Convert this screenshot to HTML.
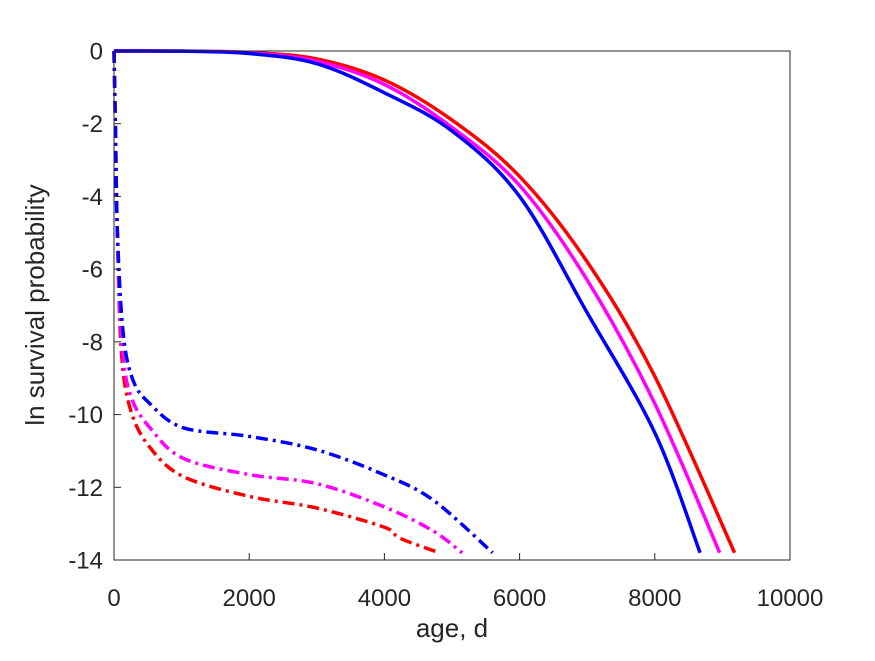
<!DOCTYPE html>
<html><head><meta charset="utf-8"><style>
body{margin:0;background:#fff;}
text{font-family:"Liberation Sans",Arial,sans-serif;fill:#262626;}
</style></head><body>
<svg id="chart" width="875" height="656" viewBox="0 0 875 656">
<rect x="0" y="0" width="875" height="656" fill="#fff"/>
<g id="plot"></g>
<rect x="114" y="51" width="676" height="509" fill="none" stroke="#262626" stroke-width="1"/>
<g id="xt"></g>
<g id="yt"></g>
<text x="452" y="637" font-size="26" text-anchor="middle">age, d</text>
<text transform="translate(44,305) rotate(-90)" font-size="26" text-anchor="middle">ln survival probability</text>
</svg>
<script>
const xTicks=[0,2000,4000,6000,8000,10000];
const yTicks=[0,-2,-4,-6,-8,-10,-12,-14];
const solidBlueX=[0,1000,2000,3000,4000,5000,6000,7000,8000,8670];
const solidBlueY=[0,-0.005,-0.07,-0.35,-1.15,-2.2,-4.0,-7.2,-10.5,-13.8];
const solidMagentaX=[0,1000,2000,3000,4000,5000,6000,7000,8000,8960];
const solidMagentaY=[0,-0.004,-0.05,-0.28,-0.92,-2.1,-3.7,-6.3,-9.7,-13.8];
const solidRedX=[0,1000,2000,3000,4000,5000,6000,7000,8000,9180];
const solidRedY=[0,-0.003,-0.04,-0.22,-0.8,-1.9,-3.45,-5.8,-8.95,-13.8];
const dashBlueX=[0,20,50,135,280,530,1020,2000,3000,4000,4720,5600];
const dashBlueY=[0,-2,-5,-7.75,-9.05,-9.7,-10.36,-10.6,-10.97,-11.66,-12.35,-13.8];
const dashMagentaX=[0,20,50,120,250,530,1020,2000,3000,4000,4720,5150];
const dashMagentaY=[0,-2,-5,-8.1,-9.5,-10.36,-11.2,-11.65,-11.9,-12.54,-13.2,-13.8];
const dashRedX=[0,20,50,110,250,530,1020,2000,3000,4000,4230,4810];
const dashRedY=[0,-2,-5,-8.3,-9.9,-10.9,-11.7,-12.25,-12.57,-13.1,-13.4,-13.8];
const NS="http://www.w3.org/2000/svg";
const L=114,R=790,T=51,B=560;
const sx=v=>L+(v-0)/10000*(R-L);
const sy=v=>T+(0-v)/14*(B-T);
function pathD(xs,ys){
 const p=xs.map((x,i)=>[sx(x),sy(ys[i])]);
 let d="M"+p[0][0]+","+p[0][1];
 for(let i=0;i<p.length-1;i++){
  const p0=p[i-1]||p[i],p1=p[i],p2=p[i+1],p3=p[i+2]||p2;
  const c1=[p1[0]+(p2[0]-p0[0])/6,p1[1]+(p2[1]-p0[1])/6];
  const c2=[p2[0]-(p3[0]-p1[0])/6,p2[1]-(p3[1]-p1[1])/6];
  d+=" C"+c1+" "+c2+" "+p2;
 }
 return d;
}
const plot=document.getElementById('plot');
function addLine(xs,ys,color,dash,name){
 const el=document.createElementNS(NS,'path');
 el.setAttribute('d',pathD(xs,ys));
 el.setAttribute('fill','none');
 el.setAttribute('stroke',color);
 el.setAttribute('stroke-width','3.5');
 if(dash)el.setAttribute('stroke-dasharray',dash);
 
 
 plot.appendChild(el);
}
addLine(dashRedX,dashRedY,'#ff0000','12,5,3,5','dashdot-red');
addLine(dashMagentaX,dashMagentaY,'#ff00ff','12,5,3,5','dashdot-magenta');
addLine(dashBlueX,dashBlueY,'#0000ff','12,5,3,5','dashdot-blue');
addLine(solidRedX,solidRedY,'#ff0000',null,'solid-red');
addLine(solidMagentaX,solidMagentaY,'#ff00ff',null,'solid-magenta');
addLine(solidBlueX,solidBlueY,'#0000ff',null,'solid-blue');
const xt=document.getElementById('xt');
xTicks.forEach(v=>{
 const t=document.createElementNS(NS,'text');
 t.setAttribute('x',sx(v));t.setAttribute('y',606);
 t.setAttribute('font-size','24');t.setAttribute('text-anchor','middle');
 t.textContent=v;
 
 
 xt.appendChild(t);
 const m=document.createElementNS(NS,'line');
 m.setAttribute('x1',sx(v));m.setAttribute('x2',sx(v));m.setAttribute('y1',B);m.setAttribute('y2',B-7);
 m.setAttribute('stroke','#262626');
 
 
 xt.appendChild(m);
});
const yt=document.getElementById('yt');
yTicks.forEach(v=>{
 const t=document.createElementNS(NS,'text');
 t.setAttribute('x',103);t.setAttribute('y',sy(v)+8.5);
 t.setAttribute('font-size','24');t.setAttribute('text-anchor','end');
 t.textContent=v;
 
 
 yt.appendChild(t);
 const m=document.createElementNS(NS,'line');
 m.setAttribute('x1',L);m.setAttribute('x2',L+7);m.setAttribute('y1',sy(v));m.setAttribute('y2',sy(v));
 m.setAttribute('stroke','#262626');
 
 
 yt.appendChild(m);
});
</script>
</body></html>
